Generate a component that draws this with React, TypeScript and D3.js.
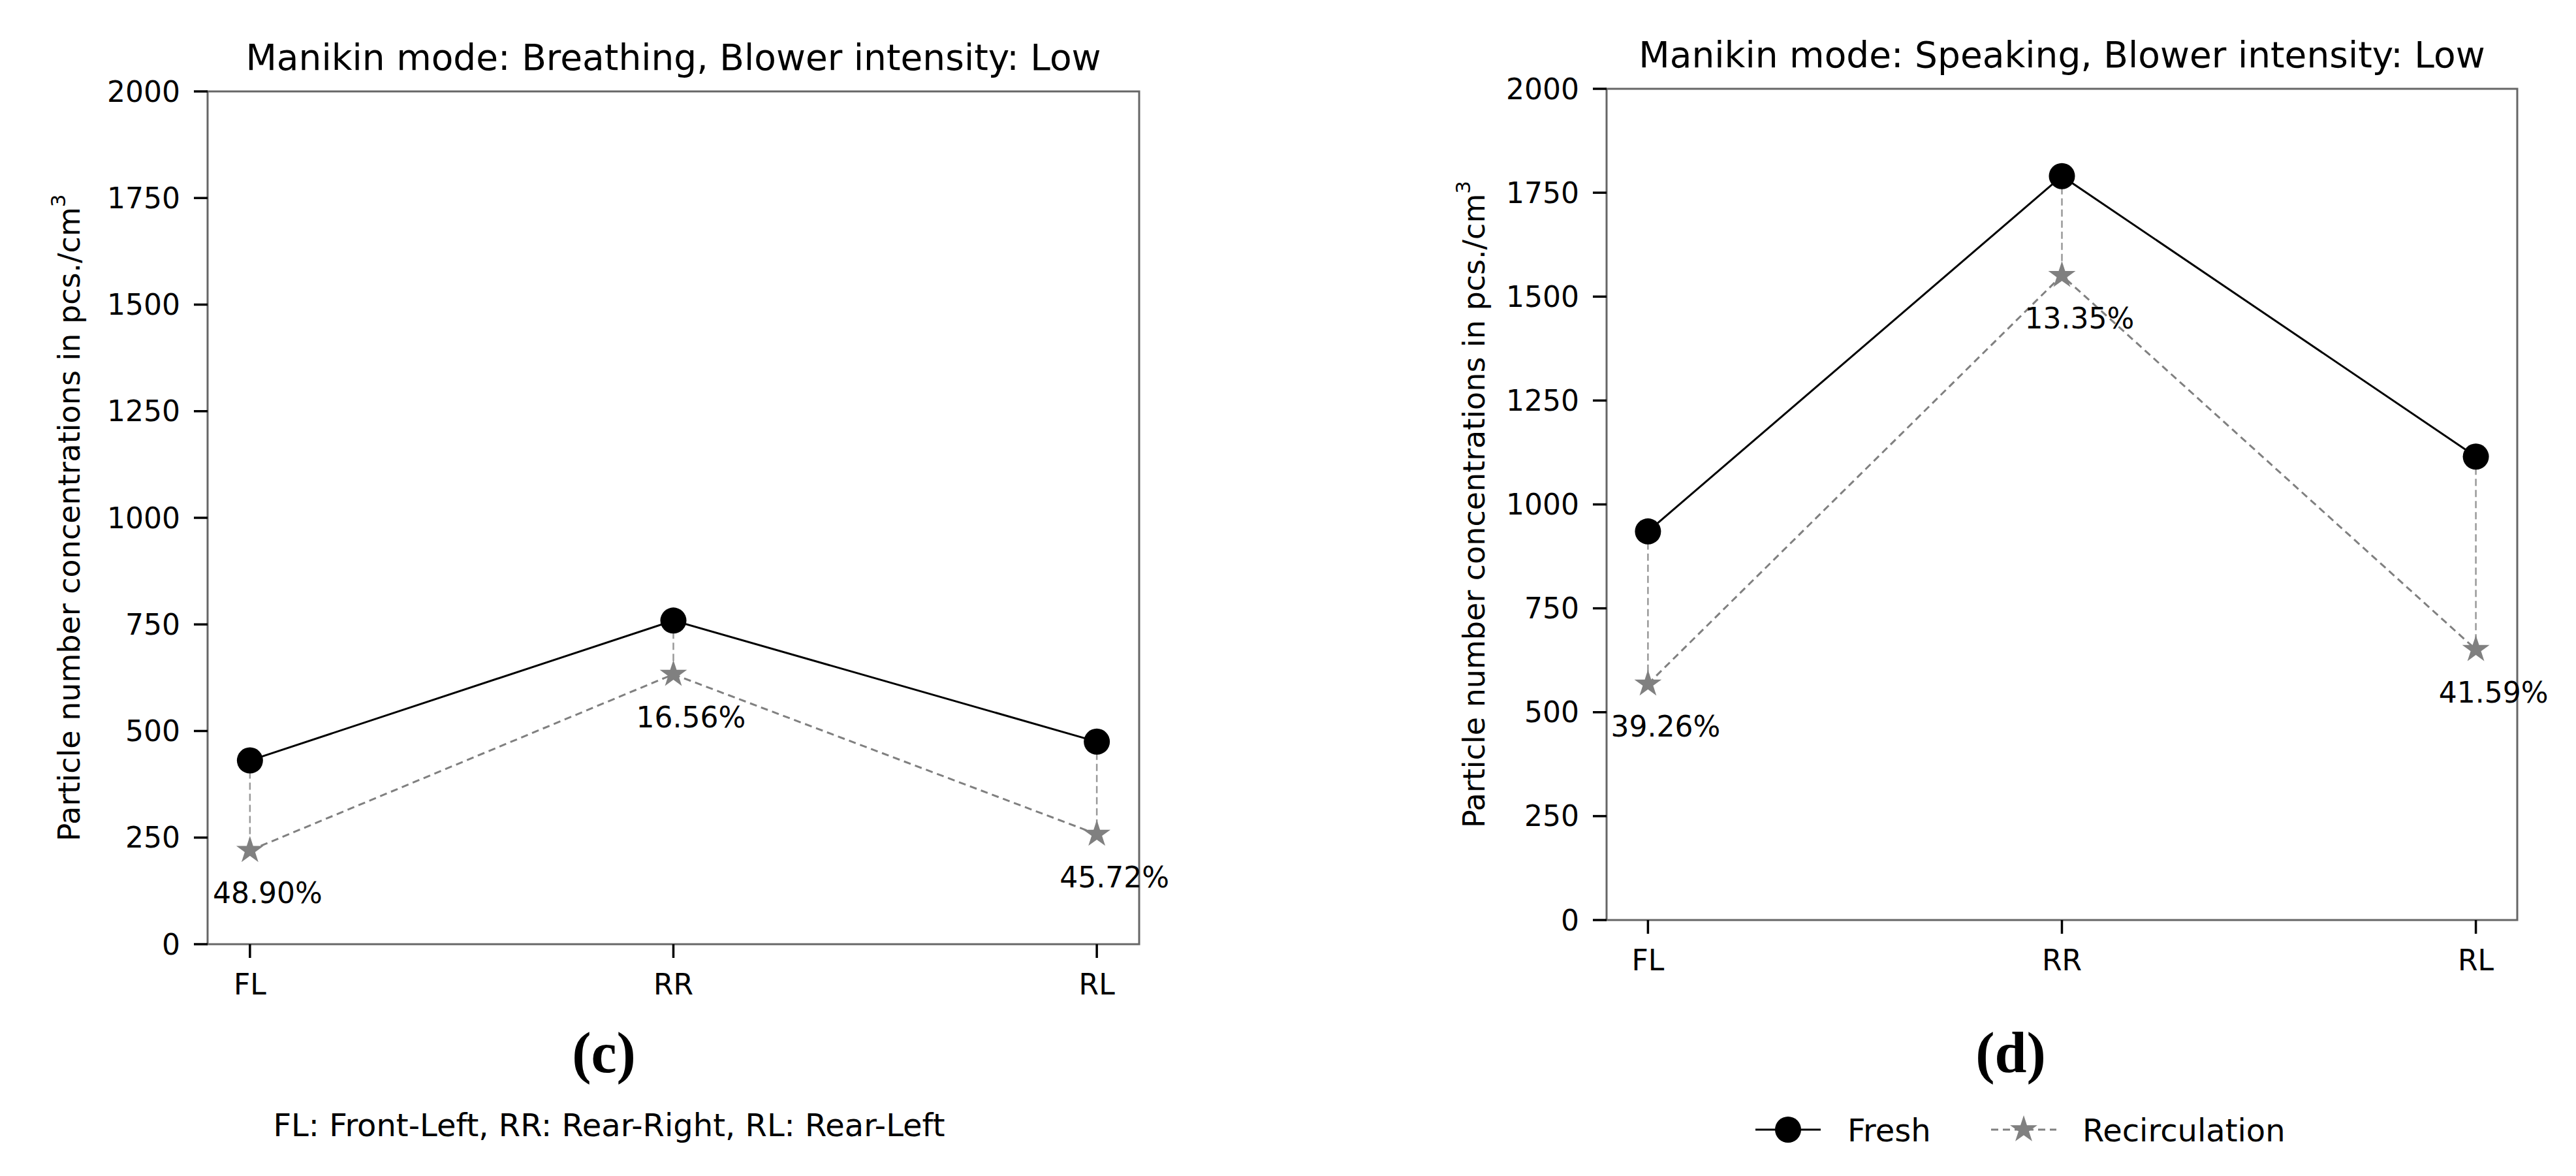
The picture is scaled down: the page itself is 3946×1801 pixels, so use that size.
import * as React from "react";
import * as d3 from "d3";

// Particle number concentrations per seat position
const categories = ["FL", "RR", "RL"];
const yTicks = [0, 250, 500, 750, 1000, 1250, 1500, 1750, 2000];

const breathingFresh = [431, 759, 475];
const breathingRecirc = [220, 633, 258];
const breathingPct = ["48.90%", "16.56%", "45.72%"];

const speakingFresh = [935, 1790, 1115];
const speakingRecirc = [568, 1551, 651];
const speakingPct = ["39.26%", "13.35%", "41.59%"];

const FONT = "'DejaVu Sans', sans-serif";
const FS = 44;
const GRAY = "#808080";

interface PanelProps {
  title: string;
  fresh: number[];
  recirc: number[];
  pct: string[];
  box: { left: number; right: number; top: number; bottom: number; ylabelX: number };
  tag: string;
  tagX: number;
}

const starPath = d3.symbol(d3.symbolStar, (22 * 22) / 0.8908130915292852)() ?? "";

function Panel({ title, fresh, recirc, pct, box, tag, tagX }: PanelProps) {
  const span = box.right - box.left;
  const x = d3
    .scaleLinear()
    .domain([-0.1, 2.1])
    .range([box.left, box.right]);
  const y = d3.scaleLinear().domain([0, 2000]).range([box.bottom, box.top]);

  const line = d3
    .line<number>()
    .x((_, i) => x(i))
    .y((v) => y(v));

  const cx = box.left + span / 2;

  return (
    <g>
      <text x={cx} y={box.top - 33} textAnchor="middle" fontSize={55} fontFamily={FONT}>
        {title}
      </text>

      {/* spines */}
      <rect
        x={box.left}
        y={box.top}
        width={span}
        height={box.bottom - box.top}
        fill="none"
        stroke="#666"
        strokeWidth={3}
      />

      {/* y axis */}
      {yTicks.map((t) => (
        <g key={t}>
          <line x1={box.left - 21} x2={box.left} y1={y(t)} y2={y(t)} stroke="#000" strokeWidth={3.5} />
          <text
            x={box.left - 42}
            y={y(t)}
            textAnchor="end"
            dominantBaseline="central"
            fontSize={FS}
            fontFamily={FONT}
          >
            {t}
          </text>
        </g>
      ))}

      {/* x axis */}
      {categories.map((c, i) => (
        <g key={c}>
          <line x1={x(i)} x2={x(i)} y1={box.bottom} y2={box.bottom + 21} stroke="#000" strokeWidth={3.5} />
          <text x={x(i)} y={box.bottom + 77} textAnchor="middle" fontSize={FS} fontFamily={FONT}>
            {c}
          </text>
        </g>
      ))}

      <text
        transform={`translate(${box.ylabelX},${(box.top + box.bottom) / 2}) rotate(-90)`}
        textAnchor="middle"
        dominantBaseline="central"
        fontSize={46}
        fontFamily={FONT}
      >
        Particle number concentrations in pcs./cm
        <tspan dy={-17} fontSize={31}>
          3
        </tspan>
      </text>

      {/* drop lines between series */}
      {categories.map((c, i) => (
        <line
          key={`drop-${c}`}
          x1={x(i)}
          x2={x(i)}
          y1={y(fresh[i])}
          y2={y(recirc[i])}
          stroke="#999"
          strokeWidth={2.5}
          strokeDasharray="11 6"
        />
      ))}

      <path d={line(fresh) ?? ""} fill="none" stroke="#000" strokeWidth={3} />
      <path d={line(recirc) ?? ""} fill="none" stroke={GRAY} strokeWidth={3} strokeDasharray="11 7" />

      {fresh.map((v, i) => (
        <circle key={`f-${i}`} cx={x(i)} cy={y(v)} r={20} fill="#000" />
      ))}
      {recirc.map((v, i) => (
        <path key={`r-${i}`} d={starPath} transform={`translate(${x(i)},${y(v)})`} fill={GRAY} />
      ))}

      {pct.map((p, i) => (
        <text
          key={`p-${i}`}
          x={x(i) + 27}
          y={y(recirc[i]) + 81}
          textAnchor="middle"
          fontSize={FS}
          fontFamily={FONT}
        >
          {p}
        </text>
      ))}

      <text
        x={tagX}
        y={1642}
        textAnchor="middle"
        fontSize={88}
        fontWeight="bold"
        fontFamily="'Liberation Serif', serif"
      >
        {tag}
      </text>
    </g>
  );
}

export default function App() {
  return (
    <svg
      width={3946}
      height={1801}
      viewBox="0 0 3946 1801"
      style={{ position: "absolute", left: 0, top: 0, background: "#fff" }}
    >
      <rect width={3946} height={1801} fill="#fff" />
      <Panel
        title="Manikin mode: Breathing, Blower intensity: Low"
        fresh={breathingFresh}
        recirc={breathingRecirc}
        pct={breathingPct}
        box={{ left: 318, right: 1745, top: 140, bottom: 1446, ylabelX: 106 }}
        tag="(c)"
        tagX={925}
      />
      <Panel
        title="Manikin mode: Speaking, Blower intensity: Low"
        fresh={speakingFresh}
        recirc={speakingRecirc}
        pct={speakingPct}
        box={{ left: 2461, right: 3856, top: 136, bottom: 1409, ylabelX: 2258 }}
        tag="(d)"
        tagX={3080}
      />

      <text x={933} y={1740} textAnchor="middle" fontSize={48} fontFamily={FONT}>
        FL: Front-Left, RR: Rear-Right, RL: Rear-Left
      </text>

      {/* legend */}
      <g>
        <line x1={2689} x2={2789} y1={1730} y2={1730} stroke="#000" strokeWidth={3} />
        <circle cx={2739} cy={1730} r={20} fill="#000" />
        <text x={2830} y={1748} fontSize={48} fontFamily={FONT}>
          Fresh
        </text>
        <line x1={3050} x2={3150} y1={1730} y2={1730} stroke={GRAY} strokeWidth={3} strokeDasharray="11 7" />
        <path d={starPath} transform="translate(3100,1730)" fill={GRAY} />
        <text x={3190} y={1748} fontSize={48} fontFamily={FONT}>
          Recirculation
        </text>
      </g>
    </svg>
  );
}
